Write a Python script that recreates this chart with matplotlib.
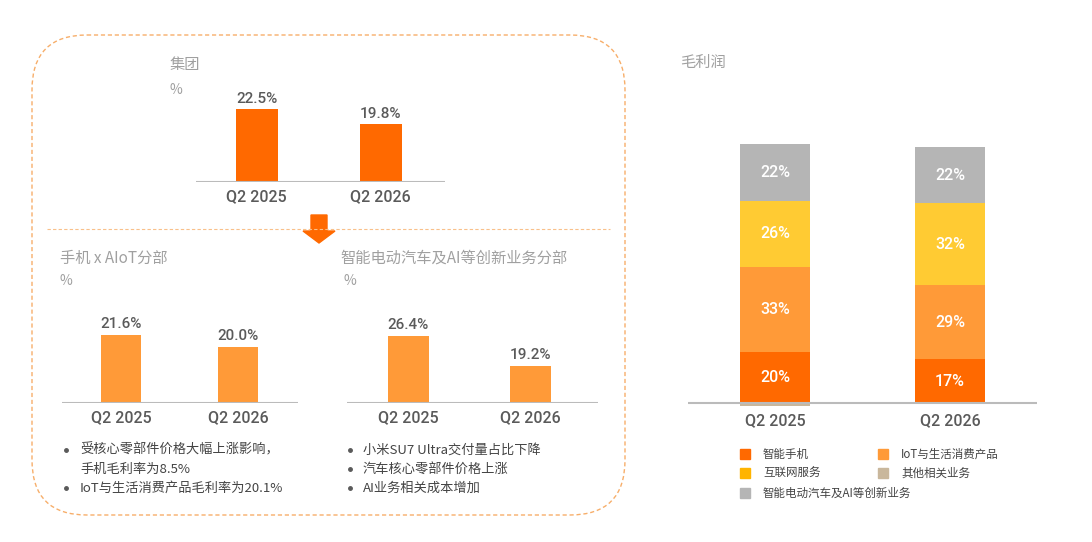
import numpy as np
import matplotlib
matplotlib.use("Agg")
import matplotlib.pyplot as plt
from matplotlib.patches import FancyBboxPatch, Polygon, Rectangle

plt.rcParams['font.family'] = ['Noto Sans CJK SC', 'DejaVu Sans']

# data
periods = ["Q2 2025", "Q2 2026"]
group_margin = [22.5, 19.8]
phone_aiot_margin = [21.6, 20.0]
ev_ai_margin = [26.4, 19.2]

seg_names = ["智能手机", "IoT与生活消费产品", "互联网服务", "其他相关业务", "智能电动汽车及AI等创新业务"]
smartphone = [20, 17]
iot = [33, 29]
internet = [26, 32]
other = [-1, 0]
ev_ai = [22, 22]

phone_notes = [["受核心零部件价格大幅上涨影响，", "手机毛利率为8.5%"], ["IoT与生活消费产品毛利率为20.1%"]]
ev_notes = [["小米SU7 Ultra交付量占比下降"], ["汽车核心零部件价格上涨"], ["AI业务相关成本增加"]]

ORANGE = "#FF6900"
LIGHT = "#FF9A38"
YELLOW = "#FFCB33"
TAN = "#C9B79C"
GRAY = "#B5B5B5"
TXT = "#5A5A5A"
TITLE = "#A0A0A0"
NUM = dict(family=["Roboto", "DejaVu Sans"], fontweight="medium")

W, H = 1092, 542
fig = plt.figure(figsize=(W / 100, H / 100), dpi=100)

# background layer in pixel coords
bg = fig.add_axes([0, 0, 1, 1])
bg.set_xlim(0, W)
bg.set_ylim(H, 0)
bg.axis("off")

box = FancyBboxPatch((32, 35), 593, 480, boxstyle="round,pad=0,rounding_size=55",
                     fill=False, ec="#F7AE6A", lw=1.0, ls=(0, (3, 2)))
bg.add_patch(box)
bg.plot([47, 610], [229, 229], color="#F9C08A", lw=0.8, ls=(0, (3, 2)))
bg.add_patch(Polygon([[311, 215], [327, 215], [327, 231], [335, 231], [319, 243],
                      [303, 231], [311, 231]], closed=True, color=ORANGE))

bg.text(170, 65, "集团", fontsize=11, color=TITLE, va="center")
bg.text(170, 90, "%", fontsize=10, color=TITLE, va="center")
bg.text(60, 258, "手机 x AIoT分部", fontsize=11, color=TITLE, va="center")
bg.text(60, 281, "%", fontsize=10, color=TITLE, va="center")
bg.text(340, 258, "智能电动汽车及AI等创新业务分部", fontsize=11, color=TITLE, va="center")
bg.text(343, 281, "%", fontsize=10, color=TITLE, va="center")
bg.text(680, 62, "毛利润", fontsize=11, color=TITLE, va="center")


def add_px_axes(x0, x1, ytop, ybot):
    return fig.add_axes([x0 / W, 1 - ybot / H, (x1 - x0) / W, (ybot - ytop) / H])


def clean(ax):
    ax.set_xticks(np.arange(len(periods)))
    ax.set_xticklabels(periods, fontsize=11.5, color=TXT, **NUM)
    ax.tick_params(length=0, pad=5)
    ax.set_yticks([])
    for s in ax.spines.values():
        s.set_visible(False)
    ax.patch.set_alpha(0)


def margin_chart(ax, vals, color, ymin, ymax, xlim, width):
    x = np.arange(len(vals))
    ax.bar(x, np.array(vals) - ymin, bottom=ymin, width=width, color=color)
    for xi, v in zip(x, vals):
        ax.text(xi, v + (ymax - ymin) * 0.035, "%.1f%%" % v, ha="center", va="bottom",
                fontsize=11, color=TXT, **NUM)
    ax.axhline(ymin, color="#BBBBBB", lw=1.5)
    ax.set_ylim(ymin, ymax)
    ax.set_xlim(*xlim)
    clean(ax)


ax1 = add_px_axes(196, 445, 90, 182)
margin_chart(ax1, group_margin, ORANGE, 9.5, 9.5 + 92 / 5.6, (-0.49, 1.52), 0.34)

ax2 = add_px_axes(62, 298, 300, 403)
margin_chart(ax2, phone_aiot_margin, LIGHT, 12.4, 12.4 + 103 / 7.4, (-0.504, 1.513), 0.34)

ax3 = add_px_axes(347, 598, 300, 403)
margin_chart(ax3, ev_ai_margin, LIGHT, 10.3, 10.3 + 103 / 4.16, (-0.5, 1.557), 0.336)

# bullet notes
for notes, bx, tx in [(phone_notes, 64, 80), (ev_notes, 348, 363)]:
    y = 450
    for note in notes:
        bg.plot(bx + 2, y, "o", ms=2.5, color=TXT)
        for line in note:
            bg.text(tx, y, line, fontsize=9.5, color="#444444", va="center")
            y += 19

# stacked gross profit chart
ax4 = add_px_axes(688, 1037, 130, 406)
x = np.arange(len(periods))
stack = [smartphone, iot, internet, ev_ai]
cols = [ORANGE, LIGHT, YELLOW, GRAY]
bottom = np.zeros(len(periods))
for vals, c in zip(stack, cols):
    vals = np.array(vals, dtype=float)
    ax4.bar(x, vals, bottom=bottom, width=0.4, color=c)
    for xi, b, v in zip(x, bottom, vals):
        ax4.text(xi, b + v / 2, "%d%%" % v, ha="center", va="center", fontsize=11.5,
                 color="white", **NUM)
    bottom += vals
ax4.bar(x, other, width=0.4, color=TAN)
ax4.axhline(0, color="#BBBBBB", lw=1.5)
ax4.set_ylim(-1.17, 106.6)
ax4.set_xlim(-0.497, 1.497)
clean(ax4)

# legend
leg_cols = [ORANGE, LIGHT, "#FFB400", TAN, GRAY]
leg_pos = [(740, 454), (878, 454), (740, 473), (878, 473), (740, 493)]
for name, c, (lx, ly) in zip(seg_names, leg_cols, leg_pos):
    bg.add_patch(Rectangle((lx, ly - 5), 10, 10, color=c))
    bg.text(lx + 23, ly, name, fontsize=8.3, color="#444444", va="center")

fig.savefig("out.png", dpi=100)
